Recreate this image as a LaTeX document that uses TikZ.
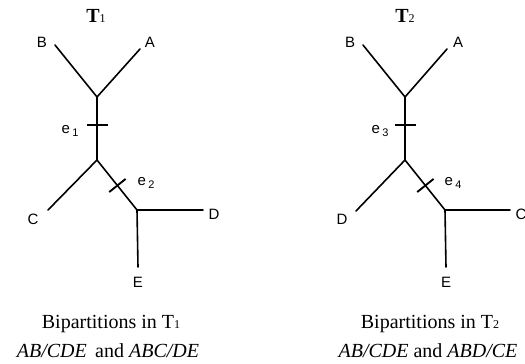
\documentclass[tikz,border=0pt]{standalone}
\usepackage{fontspec}
\setmainfont{Liberation Serif}
\setsansfont{Liberation Sans}

\newcommand{\treeidx}[1]{{\fontsize{12}{12}\selectfont #1}}
\newcommand{\edgeidx}[1]{\hspace{2.5pt}\raisebox{-3pt}{\fontsize{11}{12}\selectfont #1}}

\begin{document}
\begin{tikzpicture}[
    x=1pt, y=-1pt,
    leaf/.style={font=\fontsize{15}{17}\sffamily, inner sep=0pt},
    branch/.style={line width=1.6pt, line cap=round, draw=black},
    tick/.style={rectangle, fill=black, draw=none, inner sep=0pt, minimum width=1.9pt, minimum height=21pt, sloped},
    title/.style={font=\fontsize{20}{24}\selectfont, anchor=base, inner sep=0pt},
    caption/.style={font=\fontsize{20}{24}\selectfont, anchor=base, inner sep=0pt}
  ]
    \useasboundingbox (0,0) rectangle (525,364);

    % Tree T1
    \node[title] (t1) at (96,23) {\textbf{T}\treeidx{1}};
    \coordinate (b1) at (55,45);
    \coordinate (a1) at (140,49);
    \coordinate (u1) at (97,97);
    \coordinate (v1) at (97,160);
    \coordinate (c1) at (48,210);
    \coordinate (w1) at (137,210);
    \coordinate (d1) at (203,210);
    \coordinate (x1) at (138,267);

    \node[leaf] (lb1) at (42,42) {B};
    \node[leaf] (la1) at (150,42) {A};
    \node[leaf] (lc1) at (33,219) {C};
    \node[leaf] (ld1) at (214,214) {D};
    \node[leaf] (lx1) at (138,282) {E};
    \node[leaf] (e1) at (70,131) {e\edgeidx{1}};
    \node[leaf] (e2) at (146,183) {e\edgeidx{2}};

    \draw[branch] (b1) -- (u1);
    \draw[branch] (a1) -- (u1);
    \draw[branch] (u1) -- node[tick, pos=0.44] {} (v1);
    \draw[branch] (v1) -- (c1);
    \draw[branch] (v1) -- node[tick, pos=0.51] {} (w1);
    \draw[branch] (w1) -- (d1);
    \draw[branch] (w1) -- (x1);

    \node[caption] (cap1a) at (111,328) {Bipartitions in T\treeidx{1}};
    \node[caption] (cap1b) at (108,357) {\textit{AB/CDE}\, and \textit{ABC/DE}};

    % Tree T2
    \node[title] (t2) at (405,23) {\textbf{T}\treeidx{2}};
    \coordinate (b2) at (363,45);
    \coordinate (a2) at (447,49);
    \coordinate (u2) at (405,97);
    \coordinate (v2) at (405,160);
    \coordinate (d2) at (356,211);
    \coordinate (w2) at (445,210);
    \coordinate (c2) at (510,210);
    \coordinate (x2) at (446,267);

    \node[leaf] (lb2) at (350,42) {B};
    \node[leaf] (la2) at (458,42) {A};
    \node[leaf] (ld2) at (342,219) {D};
    \node[leaf] (lc2) at (521,214) {C};
    \node[leaf] (lx2) at (446,282) {E};
    \node[leaf] (e3) at (380,131) {e\edgeidx{3}};
    \node[leaf] (e4) at (453,183) {e\edgeidx{4}};

    \draw[branch] (b2) -- (u2);
    \draw[branch] (a2) -- (u2);
    \draw[branch] (u2) -- node[tick, pos=0.44] {} (v2);
    \draw[branch] (v2) -- (d2);
    \draw[branch] (v2) -- node[tick, pos=0.51] {} (w2);
    \draw[branch] (w2) -- (c2);
    \draw[branch] (w2) -- (x2);

    \node[caption] (cap2a) at (430,328) {Bipartitions in T\treeidx{2}};
    \node[caption] (cap2b) at (428,357) {\textit{AB/CDE} and \textit{ABD/CE}};

  \end{tikzpicture}
\end{document}
